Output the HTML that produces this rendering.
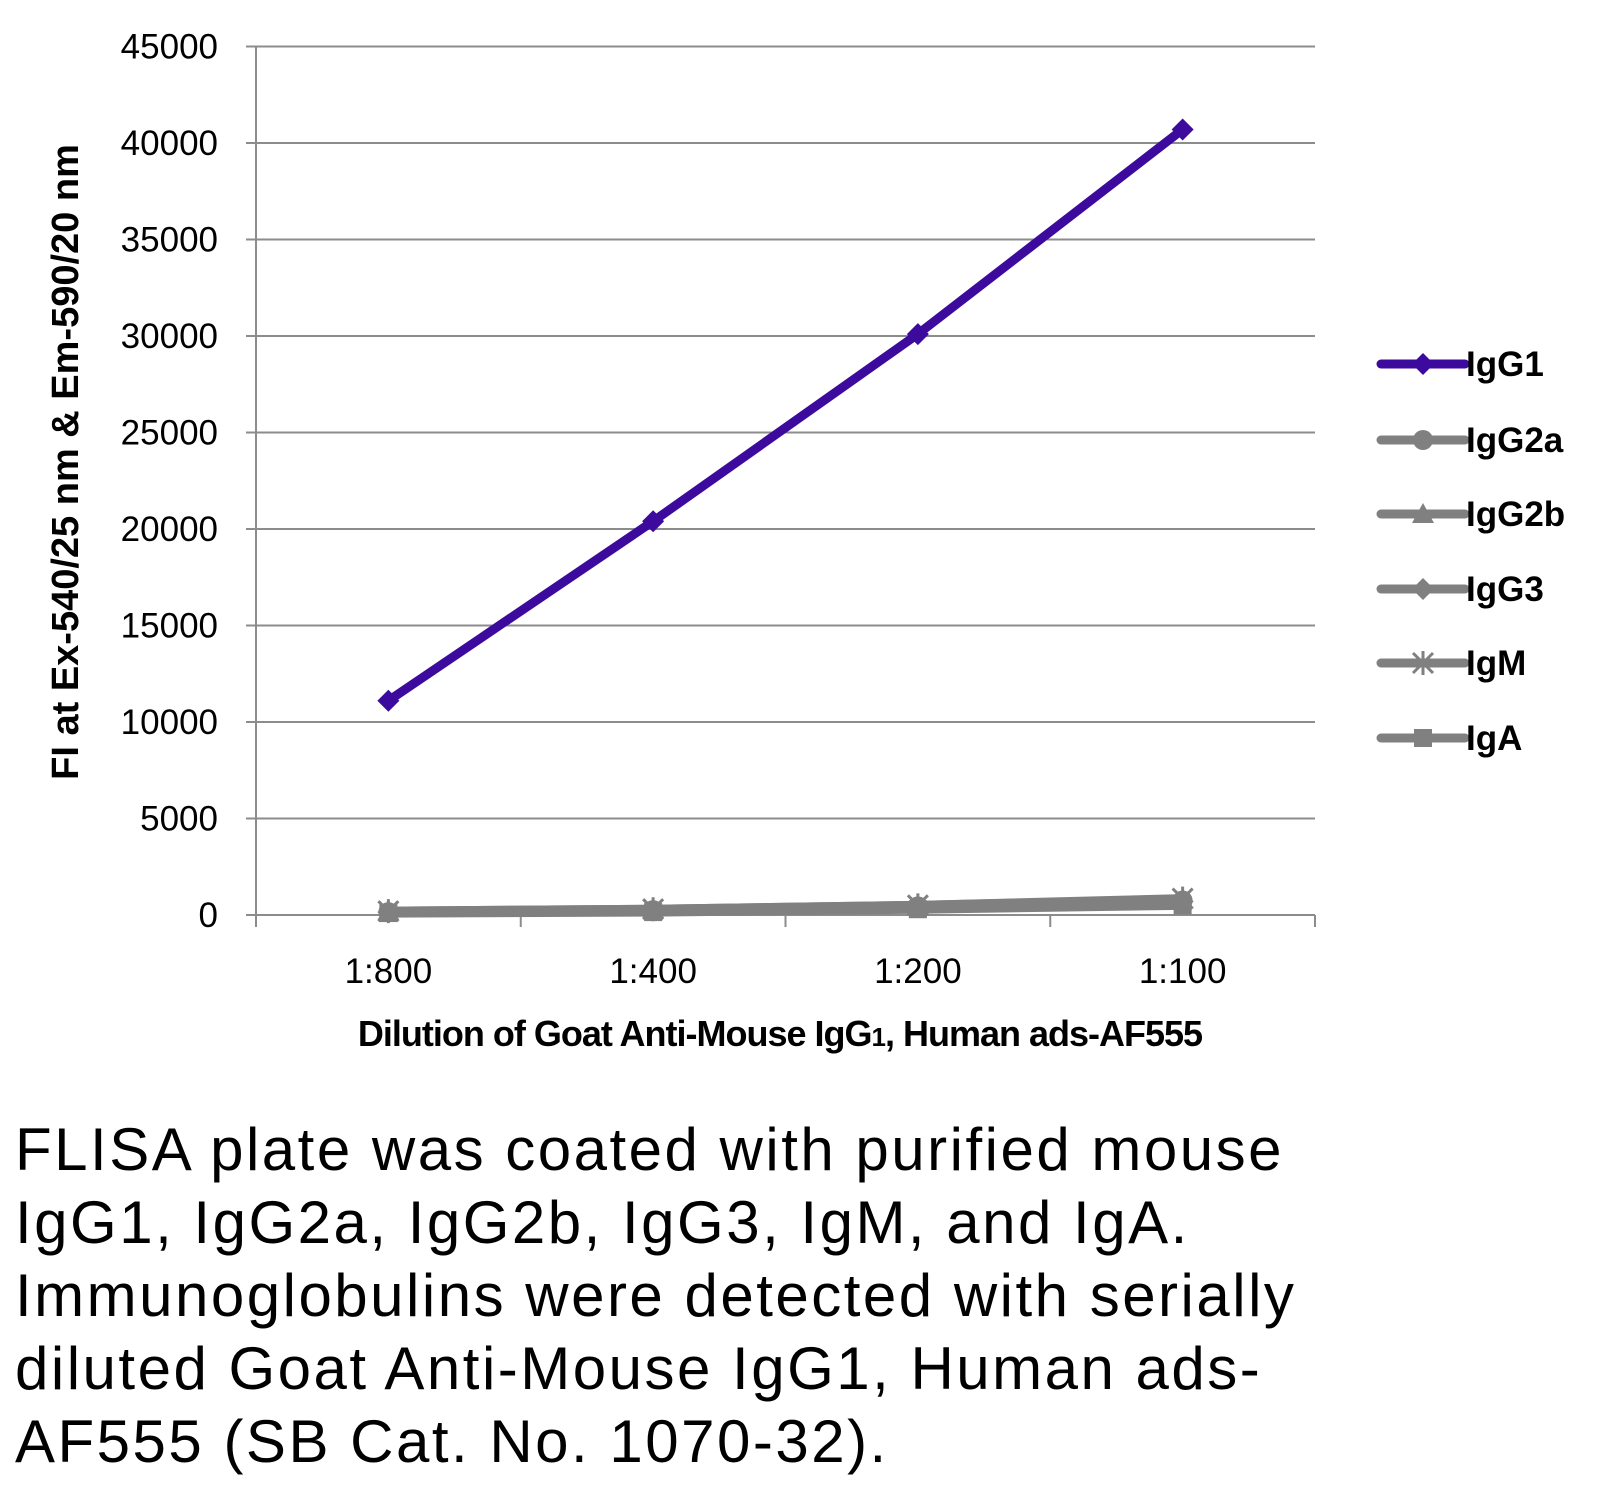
<!DOCTYPE html>
<html><head><meta charset="utf-8"><style>
body{margin:0;background:#fff;width:1611px;height:1487px;overflow:hidden;font-family:"Liberation Sans",sans-serif}
#cap{position:absolute;left:15px;top:1113px;font-size:60px;line-height:73px;color:#000;letter-spacing:2.5px;white-space:nowrap}
</style></head><body>
<svg id="chart" width="1611" height="1100" style="position:absolute;left:0;top:0" font-family="Liberation Sans, sans-serif"></svg>
<div id="cap">FLISA plate was coated with purified mouse<br>IgG1, IgG2a, IgG2b, IgG3, IgM, and IgA.<br>Immunoglobulins were detected with serially<br>diluted Goat Anti-Mouse IgG1, Human ads-<br>AF555 (SB Cat. No. 1070-32).</div>
<script>
const categories=["1:800","1:400","1:200","1:100"];
const seriesNames=["IgG1","IgG2a","IgG2b","IgG3","IgM","IgA"];
const igg1=[11100,20400,30100,40700];
const igg2a=[150,250,450,750];
const igg2b=[200,300,500,800];
const igg3=[150,250,450,700];
const igm=[200,300,500,850];
const iga=[100,150,300,500];
const yTicks=[0,5000,10000,15000,20000,25000,30000,35000,40000,45000];
const NS="http://www.w3.org/2000/svg";
const svg=document.getElementById('chart');
const L=256,R=1315,T=46.5,B=915,YMAX=45000;
const y=v=>B-(v/YMAX)*(B-T);
const bw=(R-L)/categories.length;
const x=i=>L+bw*(i+0.5);
function mk(t,a){const e=document.createElementNS(NS,t);for(const k in a)e.setAttribute(k,a[k]);svg.appendChild(e);return e;}
yTicks.forEach(v=>{
 const g=mk('line',{x1:L-10,x2:R,y1:y(v),y2:y(v),stroke:'#8c8c8c','stroke-width':2});
 
 
 const t=mk('text',{x:218,y:y(v)+12,'text-anchor':'end','font-size':35});
 t.textContent=v;
 
 
});
const ax=mk('line',{x1:L,x2:L,y1:T,y2:B+10,stroke:'#8c8c8c','stroke-width':2});


for(let i=0;i<=categories.length;i++){
 const tk=mk('line',{x1:L+bw*i,x2:L+bw*i,y1:B,y2:B+12,stroke:'#8c8c8c','stroke-width':2});
 
 
}
categories.forEach((c,i)=>{
 const t=mk('text',{x:x(i),y:983,'text-anchor':'middle','font-size':35});
 t.textContent=c;
 
 
});
const xt=mk('text',{x:780,y:1046,'text-anchor':'middle','font-size':36,'font-weight':'bold','letter-spacing':'-1'});
xt.innerHTML='Dilution of Goat Anti-Mouse IgG<tspan font-size="26">1</tspan>, Human ads-AF555';


const yt=mk('text',{x:0,y:0,'text-anchor':'middle','font-size':38,'font-weight':'bold','letter-spacing':'0',transform:'translate(78,462) rotate(-90)'});
yt.textContent='FI at Ex-540/25 nm & Em-590/20 nm';


const data=[igg1,igg2a,igg2b,igg3,igm,iga];
const colors=['#3d0a9e','#808080','#808080','#808080','#808080','#808080'];
function marker(k,cx,cy,col){
 let e;
 if(k===0||k===3)e=mk('polygon',{points:`${cx},${cy-11} ${cx+11},${cy} ${cx},${cy+11} ${cx-11},${cy}`,fill:col});
 else if(k===1)e=mk('circle',{cx:cx,cy:cy,r:10,fill:col});
 else if(k===2)e=mk('polygon',{points:`${cx},${cy-11} ${cx+11},${cy+9} ${cx-11},${cy+9}`,fill:col});
 else if(k===4)e=mk('path',{d:`M${cx-10} ${cy-10}L${cx+10} ${cy+10}M${cx+10} ${cy-10}L${cx-10} ${cy+10}M${cx} ${cy-12}V${cy+12}`,stroke:col,'stroke-width':3});
 else e=mk('rect',{x:cx-9,y:cy-9,width:18,height:18,fill:col});
 return e;
}
[1,2,3,4,5,0].forEach(k=>{
 const vals=data[k];
 const p=mk('polyline',{points:vals.map((v,i)=>x(i)+','+y(v)).join(' '),fill:'none',stroke:colors[k],'stroke-width':9,'stroke-linejoin':'round'});
 
 
 vals.forEach((v,i)=>{
  const m=marker(k,x(i),y(v),colors[k]);
  
  
 });
});
const ly=[364,440,514,589,663,738];
seriesNames.forEach((n,k)=>{
 const l=mk('line',{x1:1381,x2:1465,y1:ly[k],y2:ly[k],stroke:colors[k],'stroke-width':9,'stroke-linecap':'round'});
 
 
 const m=marker(k,1423,ly[k],colors[k]);
 
 
 const t=mk('text',{x:1466,y:ly[k]+12,'font-size':35,'font-weight':'bold'});
 t.textContent=n;
 
 
});
</script>
</body></html>
